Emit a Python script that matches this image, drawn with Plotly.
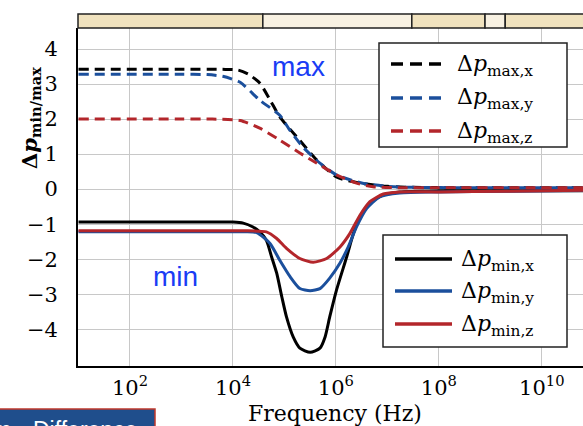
import numpy as np
import plotly.graph_objects as go

# ---- data (log10 of frequency in Hz, value) ----
max_x_logf = [1.0, 3.0, 3.8, 4.1, 4.3, 4.52, 4.72, 4.91, 5.24, 5.63, 6.02, 6.47, 7.0, 7.5, 8.5, 10.8]
max_x_val = [3.42, 3.42, 3.42, 3.40, 3.28, 3.03, 2.55, 2.06, 1.49, 0.83, 0.34, 0.17, 0.08, 0.05, 0.04, 0.04]

max_y_logf = [1.0, 3.0, 3.5, 3.8, 4.14, 4.52, 4.91, 5.1, 5.36, 5.69, 6.02, 6.52, 7.0, 7.5, 8.5, 10.8]
max_y_val = [3.28, 3.28, 3.27, 3.22, 3.05, 2.54, 2.11, 1.69, 1.2, 0.74, 0.4, 0.17, 0.08, 0.05, 0.04, 0.04]

max_z_logf = [1.0, 3.0, 3.6, 4.14, 4.52, 4.91, 5.3, 5.63, 6.02, 6.4, 6.72, 7.2, 8.0, 10.8]
max_z_val = [2.0, 2.0, 2.0, 1.96, 1.74, 1.4, 1.03, 0.74, 0.4, 0.17, 0.07, 0.04, 0.04, 0.04]

min_x_logf = [1.0, 3.5, 4.0, 4.2, 4.39, 4.52, 4.65, 4.75, 4.85, 4.95, 5.04, 5.17, 5.3, 5.5,
              5.69, 5.79, 5.88, 6.01, 6.21, 6.34, 6.47, 6.66, 6.91, 7.24, 8.0, 10.8]
min_x_val = [-0.94, -0.94, -0.94, -0.97, -1.08, -1.22, -1.46, -1.93, -2.4, -3.08, -3.65, -4.22, -4.54, -4.66,
             -4.54, -4.22, -3.65, -2.89, -1.93, -1.27, -0.79, -0.4, -0.17, -0.08, -0.05, -0.05]

min_y_logf = [1.0, 3.5, 4.2, 4.46, 4.72, 4.91, 5.11, 5.3, 5.5, 5.69, 5.88, 6.08, 6.24, 6.4, 6.6, 6.85,
              7.24, 8.0, 9.3, 10.8]
min_y_val = [-1.22, -1.22, -1.22, -1.24, -1.55, -2.03, -2.5, -2.84, -2.9, -2.84, -2.54, -2.11, -1.65, -1.08,
             -0.55, -0.22, -0.11, -0.08, -0.06, -0.04]

min_z_logf = [1.0, 3.5, 4.2, 4.65, 4.85, 5.04, 5.3, 5.56, 5.82, 6.08, 6.27, 6.47, 6.66, 6.92, 7.24, 8.0,
              9.3, 10.8]
min_z_val = [-1.19, -1.19, -1.19, -1.22, -1.41, -1.69, -1.98, -2.09, -1.98, -1.65, -1.27, -0.74, -0.36,
             -0.14, -0.08, -0.08, -0.06, -0.03]

series_names = ["Δ<i>p</i><sub>max,x</sub>", "Δ<i>p</i><sub>max,y</sub>", "Δ<i>p</i><sub>max,z</sub>",
                "Δ<i>p</i><sub>min,x</sub>", "Δ<i>p</i><sub>min,y</sub>", "Δ<i>p</i><sub>min,z</sub>"]

x_tick_vals = [1e2, 1e4, 1e6, 1e8, 1e10]
x_tick_text = ["10<sup>2</sup>", "10<sup>4</sup>", "10<sup>6</sup>", "10<sup>8</sup>", "10<sup>10</sup>"]
y_tick_vals = [-4, -3, -2, -1, 0, 1, 2, 3, 4]

# top band segments (paper x fractions) and shades
band_edges = [0.0, 0.366, 0.661, 0.806, 0.846, 1.0]
band_colors = ["#F0E2BE", "#F8F1E2", "#F0E2BE", "#F8F1E2", "#F0E2BE"]

BLACK = "#000000"
BLUE = "#1B4F9C"
RED = "#B3262B"
SERIF = "DejaVu Serif"
PLOT_DASH = "10px,6px"
LEG_DASH = "12px,7px"

W, H = 583, 426
L, R, T, B = 78, 0, 28, 60

fig = go.Figure()

specs = [
    (max_x_logf, max_x_val, BLACK, PLOT_DASH),
    (max_y_logf, max_y_val, BLUE, PLOT_DASH),
    (max_z_logf, max_z_val, RED, PLOT_DASH),
    (min_x_logf, min_x_val, BLACK, "solid"),
    (min_y_logf, min_y_val, BLUE, "solid"),
    (min_z_logf, min_z_val, RED, "solid"),
]
for (logf, val, color, dsh), name in zip(specs, series_names):
    fig.add_trace(go.Scatter(
        x=np.power(10.0, logf), y=val, mode="lines", name=name, showlegend=False,
        line=dict(color=color, width=3, dash=dsh, shape="spline", smoothing=0.6),
    ))

pw = W - L - R
ph = H - T - B


def xp(px):
    return (px - L) / pw


def yp(py):
    return (H - B - py) / ph


shapes = []
for i in range(len(band_colors)):
    shapes.append(dict(type="rect", xref="paper", yref="paper",
                       x0=band_edges[i], x1=band_edges[i + 1] + (0.02 if i == len(band_colors) - 1 else 0),
                       y0=1.0, y1=yp(14),
                       fillcolor=band_colors[i], line=dict(color="#222", width=1.5)))
# bottom-left cut-off box
shapes.append(dict(type="rect", xref="paper", yref="paper",
                   x0=xp(-5), x1=xp(155), y0=yp(432), y1=yp(409),
                   fillcolor="#1F4E8C", line=dict(color="#C0392B", width=1.5)))

annotations = [
    dict(text="max", x=xp(298), y=yp(66), xref="paper", yref="paper", showarrow=False,
         xanchor="center", yanchor="middle",
         font=dict(family="Liberation Sans", size=28, color="#1A3CF5")),
    dict(text="min", x=xp(175), y=yp(276), xref="paper", yref="paper", showarrow=False,
         xanchor="center", yanchor="middle",
         font=dict(family="Liberation Sans", size=28, color="#1A3CF5")),
    dict(text="<b>Δ<i>p</i><sub>min/max</sub></b>", x=xp(30), y=yp(118), xref="paper", yref="paper",
         xanchor="center", yanchor="middle",
         showarrow=False, textangle=-90, font=dict(family=SERIF, size=21, color="black")),
    dict(text="Frequency (Hz)", x=xp(335), y=yp(413), xref="paper", yref="paper", showarrow=False,
         xanchor="center", yanchor="middle",
         font=dict(family=SERIF, size=22, color="black")),
    dict(text="Difference", x=xp(31), y=yp(415), xref="paper", yref="paper", showarrow=False,
         xanchor="left", yanchor="top", font=dict(family="Liberation Sans", size=23, color="white")),
    dict(text="m", x=xp(13), y=yp(415), xref="paper", yref="paper", showarrow=False,
         xanchor="right", yanchor="top", font=dict(family="Liberation Sans", size=23, color="white")),
]

# manual legends (box, sample line, label)
legend_boxes = [(379, 567, 43, 147), (383, 567, 235, 347)]
legend_rows = [[64, 98, 131], [259, 291, 324]]
legend_lines = [(391, 442), (395, 452)]
legend_text_x = [455, 459]
for g in range(2):
    x0, x1, y0, y1 = legend_boxes[g]
    shapes.append(dict(type="rect", xref="paper", yref="paper", x0=xp(x0), x1=xp(x1),
                       y0=yp(y1), y1=yp(y0), fillcolor="white", line=dict(color="#222", width=1.5)))
    for k in range(3):
        idx = g * 3 + k
        _, _, color, dsh = specs[idx]
        ly = legend_rows[g][k]
        shapes.append(dict(type="line", xref="paper", yref="paper",
                           x0=xp(legend_lines[g][0]), x1=xp(legend_lines[g][1]), y0=yp(ly), y1=yp(ly),
                           line=dict(color=color, width=3.5, dash=LEG_DASH if dsh != "solid" else "solid")))
        annotations.append(dict(text=series_names[idx], x=xp(legend_text_x[g]), y=yp(ly + 1),
                                xref="paper", yref="paper", showarrow=False, xanchor="left",
                                yanchor="middle", font=dict(family=SERIF, size=22, color="black")))

fig.update_layout(
    width=W, height=H,
    margin=dict(l=L, r=R, t=T, b=B),
    paper_bgcolor="white", plot_bgcolor="white",
    shapes=shapes, annotations=annotations,
    showlegend=False,
    xaxis=dict(type="log", range=[0.99, 10.8], tickvals=x_tick_vals, ticktext=x_tick_text,
               showgrid=True, gridcolor="#C8C8C8", gridwidth=1, showline=True, linecolor="black",
               linewidth=1.8, ticks="", ticklabelstandoff=2, zeroline=False,
               tickfont=dict(family=SERIF, size=21, color="black")),
    yaxis=dict(range=[-5.05, 4.6], tickvals=y_tick_vals, showgrid=True, gridcolor="#C8C8C8", gridwidth=1,
               showline=True, linecolor="black", linewidth=1.8, ticks="", ticklabelstandoff=14,
               zeroline=False, tickfont=dict(family=SERIF, size=21, color="black")),
)

fig.write_html("out.html")
